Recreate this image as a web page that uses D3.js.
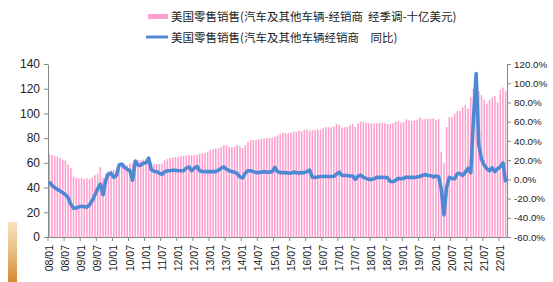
<!DOCTYPE html>
<html>
<head>
<meta charset="utf-8">
<script src="https://cdn.jsdelivr.net/npm/d3@7"></script>
<style>
body { margin: 0; background: #fff; }
svg { display: block; }
.axis text { font-family: Arial, "Liberation Sans", sans-serif; fill: #222; }
.legend text { font-family: "Noto Sans CJK SC", sans-serif; fill: #222; }
</style>
</head>
<body>
<script>
// monthly values, 2008/01 - 2022/03
var salesValues = [
  67, 66.5, 65.5, 65, 64, 62.5, 62, 58.5, 56, 49, 48, 47.5,
  48, 47, 47.5, 47, 48, 50, 51.5, 56.5, 48, 51.5, 53, 54,
  54.5, 54, 56, 57, 58.5, 58, 59.5, 59.5, 62, 62.5, 62, 62.5,
  63, 62, 60, 59, 59, 59, 59.5, 62, 63, 64, 64.5, 64.5,
  65, 65.5, 65.8, 65.8, 66.4, 66, 66.2, 66.5, 67.5, 67.7, 68, 69,
  70.4, 71, 71.5, 71.8, 73, 74.4, 74, 73, 72.5, 73, 74.4, 73.5,
  72, 74.4, 77, 78.5, 78.5, 78.5, 79, 79.8, 79.5, 80, 80, 80.5,
  81.2, 82, 83.3, 84.4, 84, 84, 84.5, 85.2, 85, 86, 85.5, 86.5,
  87, 86, 86.5, 86.5, 87, 87, 88, 89, 88.8, 88.8, 89.5, 91.4,
  90.5, 88.5, 89, 89, 90.5, 91.4, 89, 92, 93.3, 93.3, 92.5, 92,
  92, 92, 92, 92.5, 92.5, 92, 91.5, 91.4, 92, 93.3, 94, 92.5,
  93, 95.2, 94.3, 94, 94.5, 95, 96.8, 95.5, 95.5, 95.5, 96, 96.2,
  94.7, 95.5, 69, 60, 89, 97, 97, 100, 102, 102, 105, 107,
  104, 113.5, 120, 121, 118, 115, 111, 108, 111, 113, 114, 109,
  119, 121, 118
];
var yoyValues = [
  -2.5, -6.5, -8.5, -10.5, -12, -14, -16, -19, -26, -30, -30, -28.5,
  -28, -28.5, -29, -26.5, -22, -16, -10, -5, -16, -1, 5.5, 6.5,
  2, 4, 15, 16, 12.5, 10.5, 9, -1, 19, 15, 14.5, 17,
  17, 22, 10, 8.5, 8, 6.5, 5, 8, 9, 9, 9.5, 9.5,
  9, 9, 9, 11.5, 13, 9, 11.5, 13.5, 9, 8, 8, 8,
  8, 8, 8, 9.5, 11.5, 13, 10.5, 9, 8, 7.5, 6, 2.5,
  1.5, 6.5, 9, 9, 8, 7, 7, 7.5, 8, 7.5, 7.5, 8,
  12.5, 8, 7, 7, 7, 6.5, 6.5, 7.5, 7, 6.5, 7, 7,
  8, 9.5, 2, 2, 2.5, 3, 3, 3, 3, 3, 3, 5.5,
  7.5, 4, 4, 4, 3.5, 3.5, 0, 3, 4.5, 2, 1, 0,
  0, 0.5, 2, 2, 2, 2, 1.5, -2, -2.5, -1, 1, 0.5,
  1, 2.5, 2, 2, 2, 2.5, 3, 4, 5, 4, 4, 2.5,
  3.5, 3, -10, -37, -8, 2, 1, 0.5, 6, 6, 4, 7.5,
  11.5, 7, 62, 110, 36, 21, 15, 11, 9, 12, 8, 11,
  13, 17, -3
];
var tickLabels = ["08/01", "08/07", "09/01", "09/07", "10/01", "10/07", "11/01", "11/07",
  "12/01", "12/07", "13/01", "13/07", "14/01", "14/07", "15/01", "15/07", "16/01", "16/07",
  "17/01", "17/07", "18/01", "18/07", "19/01", "19/07", "20/01", "20/07", "21/01", "21/07", "22/01"];
var leftTicks = [0, 20, 40, 60, 80, 100, 120, 140];
var rightTicks = [-60, -40, -20, 0, 20, 40, 60, 80, 100, 120];
var legendLabels = ["美国零售销售(汽车及其他车辆-经销商  经季调-十亿美元)", "美国零售销售(汽车及其他车辆经销商　同比)"];

var width = 553, height = 282;
var margin = { left: 48, right: 46, top: 64, bottom: 45 };
var barColor = "#ff9fcf", lineColor = "#4f88d3";

var fmt = d3.timeFormat("%y/%m");
var categories = d3.timeMonth.range(new Date(2008, 0, 1), new Date(2022, 3, 1)).map(fmt);

var svg = d3.select("body").append("svg").attr("width", width).attr("height", height);

var x = d3.scaleBand().domain(categories)
    .range([margin.left, width - margin.right])
    .paddingInner(0.42).paddingOuter(0.21);
var yL = d3.scaleLinear().domain([0, 140]).range([height - margin.bottom, margin.top]);
var yR = d3.scaleLinear().domain([-60, 120]).range([height - margin.bottom, margin.top]);

// bars
svg.append("g").selectAll("rect")
    .data(salesValues)
    .enter().append("rect")
    .attr("x", function(d, i) { return x(categories[i]); })
    .attr("width", x.bandwidth())
    .attr("y", function(d) { return yL(d); })
    .attr("height", function(d) { return yL(0) - yL(d); })
    .attr("fill", barColor);

// axes
var xAxis = d3.axisBottom(x).tickValues(tickLabels).tickSize(4).tickSizeOuter(0);
var gx = svg.append("g").attr("class", "axis")
    .attr("transform", "translate(0," + (height - margin.bottom) + ")")
    .call(xAxis);
gx.selectAll(".tick line").attr("transform", "translate(" + (-x.step() / 2) + ",0)");
gx.selectAll(".tick text")
    .attr("font-size", 10.5)
    .attr("transform", "rotate(-90)")
    .attr("text-anchor", "end")
    .attr("x", -8).attr("y", 0).attr("dy", "0.35em");

var gl = svg.append("g").attr("class", "axis")
    .attr("transform", "translate(" + margin.left + ",0)")
    .call(d3.axisLeft(yL).tickValues(leftTicks).tickSize(4).tickSizeOuter(0));
gl.selectAll(".tick text").attr("font-size", 12).attr("x", -8);

var gr = svg.append("g").attr("class", "axis")
    .attr("transform", "translate(" + (width - margin.right) + ",0)")
    .call(d3.axisRight(yR).tickValues(rightTicks).tickSize(4).tickSizeOuter(0)
        .tickFormat(function(d) { return d.toFixed(1) + "%"; }));
gr.selectAll(".tick text").attr("font-size", 9.8).attr("x", 7);

svg.selectAll(".axis .domain, .axis .tick line").attr("stroke", "#888");

// yoy line
var line = d3.line()
    .x(function(d, i) { return x(categories[i]) + x.bandwidth() / 2; })
    .y(function(d) { return yR(d); });
svg.append("path")
    .attr("d", line(yoyValues))
    .attr("fill", "none")
    .attr("stroke", lineColor)
    .attr("stroke-width", 3.6)
    .attr("stroke-linejoin", "round");

// legend
var legend = svg.append("g").attr("class", "legend");
legend.append("rect").attr("x", 148).attr("y", 14).attr("width", 20).attr("height", 5).attr("fill", barColor);
legend.append("line").attr("x1", 146).attr("x2", 168).attr("y1", 37).attr("y2", 37)
    .attr("stroke", lineColor).attr("stroke-width", 3);
legend.selectAll("text").data(legendLabels).enter().append("text")
    .attr("x", 171)
    .attr("y", function(d, i) { return 17 + i * 20.5; })
    .attr("dy", "0.35em")
    .attr("font-size", 11.5)
    .style("white-space", "pre")
    .text(function(d) { return d; });

// little tan strip at bottom left
var grad = svg.append("defs").append("linearGradient").attr("id", "strip")
    .attr("x1", 0).attr("x2", 0).attr("y1", 0).attr("y2", 1);
grad.append("stop").attr("offset", "0%").attr("stop-color", "#f6e3c2");
grad.append("stop").attr("offset", "50%").attr("stop-color", "#e9bd7e");
grad.append("stop").attr("offset", "100%").attr("stop-color", "#d48a2e");
svg.append("rect").attr("x", 8).attr("y", 222).attr("width", 9).attr("height", 60).attr("fill", "url(#strip)");
</script>
</body>
</html>
